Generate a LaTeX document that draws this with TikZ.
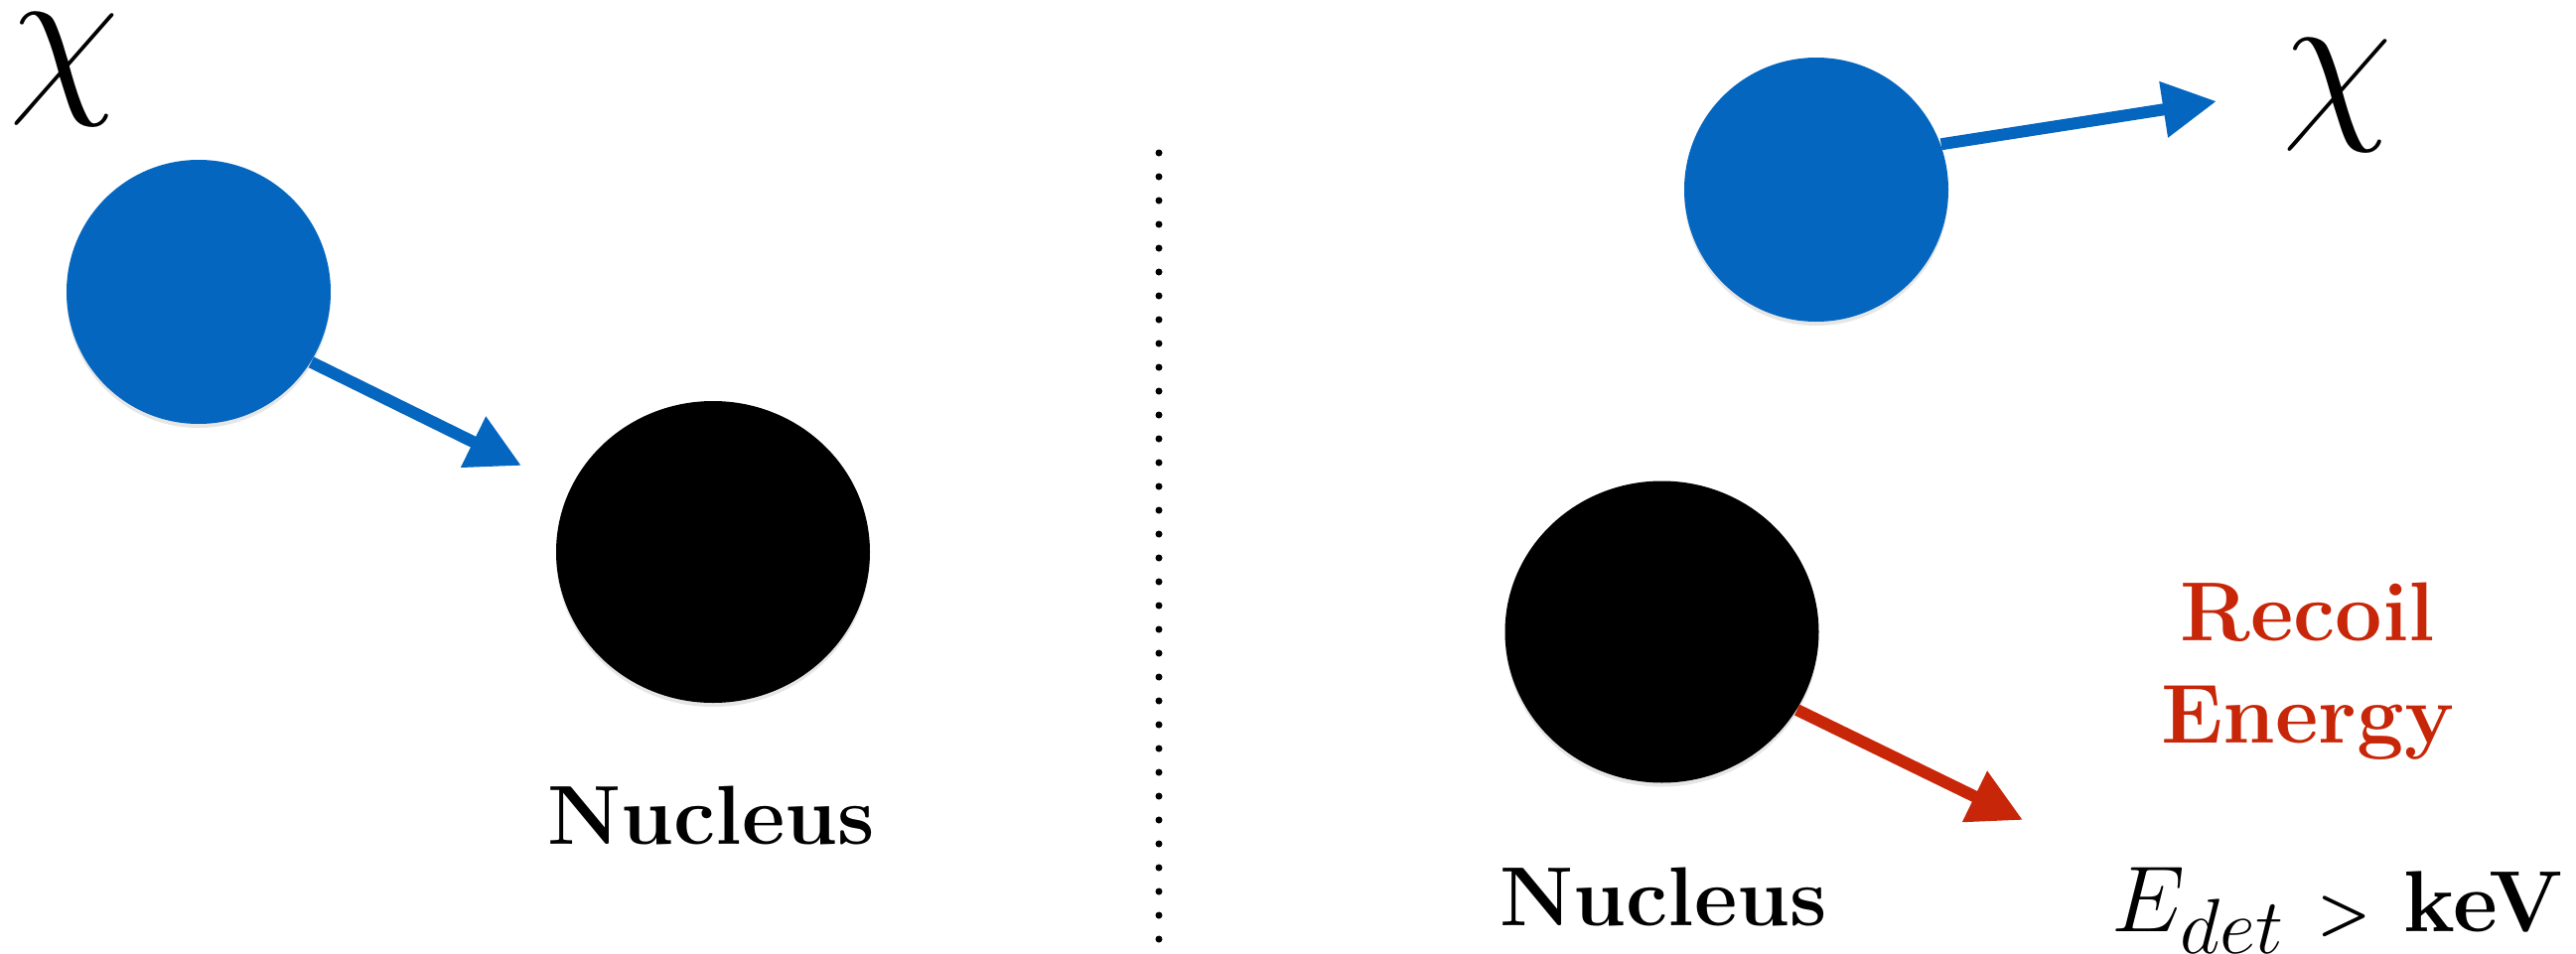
\documentclass[tikz,border=0pt]{standalone}
\usepackage{amsmath}
\usepackage{graphicx}
\usepackage{xcolor}
\usetikzlibrary{arrows.meta,shapes.geometric,shadows}
\definecolor{chiblue}{RGB}{5,102,192}
\definecolor{recoilred}{RGB}{200,38,8}

\begin{document}
\begin{tikzpicture}[
    ball/.style={circle,fill=chiblue,minimum size=2.66cm,inner sep=0pt,
        drop shadow={opacity=0.2,shadow xshift=0pt,shadow yshift=-0.04cm}},
    nuc/.style={ellipse,fill=black,minimum width=3.16cm,minimum height=3.04cm,inner sep=0pt,
        drop shadow={opacity=0.2,shadow xshift=0pt,shadow yshift=-0.04cm}},
    kick/.style={line width=0.12cm,-{Triangle[length=0.54cm,width=0.54cm]}},
    lbl/.style={inner sep=0pt,anchor=base,font=\fontsize{24}{29}\selectfont\bfseries},
    chilbl/.style={inner sep=0pt,font=\fontsize{24.88}{30}\selectfont}]
    \useasboundingbox (0,0) rectangle (25.94,9.6);

    % before the collision
    \node[chilbl] (C1) at (0.65,8.90) {\scalebox{2.07}{$\chi$}};
    \node[ball] (X1) at (2.00,6.66) {};
    \node[nuc] (N1) at (7.18,4.04) {};
    \coordinate (T1) at (5.25,4.91);
    \draw[kick,chiblue] (X1.-32)--(T1);
    \node[lbl] (L1) at (7.16,1.10) {Nucleus};

    \coordinate (D1) at (11.67,8.06);
    \coordinate (D2) at (11.67,0.12);
    \draw[line width=0.07cm,line cap=round,dash pattern=on 0pt off 0.24cm] (D1)--(D2);

    % after the collision
    \node[ball] (X2) at (18.29,7.69) {};
    \coordinate (T2) at (22.32,8.58);
    \draw[kick,chiblue] (X2.20)--(T2);
    \node[chilbl] (C2) at (23.54,8.64) {\scalebox{2.07}{$\chi$}};
    \node[nuc] (N2) at (16.735,3.235) {};
    \coordinate (T3) at (20.37,1.34);
    \draw[kick,recoilred] (N2.-30)--(T3);
    \node[lbl] (L2) at (16.75,0.28) {Nucleus};
    \node[lbl,text=recoilred] (R1) at (23.24,3.15) {Recoil};
    \node[lbl,text=recoilred] (R2) at (23.24,2.12) {Energy};
    \node[lbl,font=\fontsize{24.88}{30}\selectfont\bfseries] (E1) at (23.54,0.22)
        {\scalebox{1.08}{$E_{det}$} {\fontsize{18}{20}\selectfont$\boldsymbol{>}$} keV};
\end{tikzpicture}
\end{document}
